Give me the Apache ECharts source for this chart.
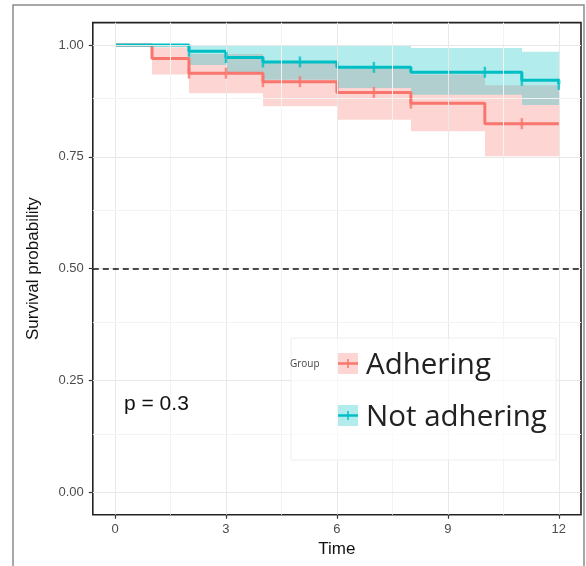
<!DOCTYPE html>
<html>
<head>
<meta charset="utf-8">
<script src="https://cdn.jsdelivr.net/npm/echarts@6/dist/echarts.min.js"></script>
<style>
html,body{margin:0;padding:0;background:#fff;}
#chart{width:586px;height:566px;}
</style>
</head>
<body>
<div id="chart"></div>
<script>
// ---- data ----
const xTicks = [0, 3, 6, 9, 12];
const xMinor = [1.5, 4.5, 7.5, 10.5];
const yTicks = [0, 0.25, 0.5, 0.75, 1];
const yMinor = [0.125, 0.375, 0.625, 0.875];

const groups = ['Adhering', 'Not adhering'];

// Adhering (red)
const redTimes = [0, 1, 2, 4, 6, 8, 10, 12];
const redSurv  = [1.000, 0.970, 0.937, 0.918, 0.894, 0.870, 0.824, 0.824];
const redLower = [1.000, 0.934, 0.892, 0.863, 0.833, 0.807, 0.751];
const redUpper = [1.000, 0.995, 0.980, 0.960, 0.950, 0.934, 0.910];
const redCensor = [2, 3, 4, 5, 7, 8, 11];

// Not adhering (teal)
const tealTimes = [0, 2, 3, 4, 6, 8, 11, 12];
const tealSurv  = [1.000, 0.986, 0.972, 0.962, 0.950, 0.939, 0.921, 0.912];
const tealLower = [1.000, 0.955, 0.935, 0.922, 0.904, 0.889, 0.866];
const tealUpper = [1.000, 1.000, 1.000, 1.000, 1.000, 0.993, 0.985];
const tealCensor = [2, 3, 4, 5, 7, 10, 11, 12];

const medianLine = 0.5;
const pText = 'p = 0.3';

// ---- helpers ----
const RED = '#F8766D', TEAL = '#00BFC4';
function stepVal(times, surv, t) {
  let v = surv[0];
  for (let i = 0; i < times.length; i++) { if (times[i] <= t) v = surv[i]; }
  return v;
}
function bandData(times, lo, hi) {
  const out = [];
  for (let i = 0; i < lo.length; i++) out.push([times[i], times[i + 1], lo[i], hi[i]]);
  return out;
}
function bandRender(color) {
  return function (params, api) {
    const p0 = api.coord([api.value(0), api.value(3)]);
    const p1 = api.coord([api.value(1), api.value(2)]);
    const x0 = Math.round(p0[0]), x1 = Math.round(p1[0]);
    return { type: 'rect', shape: { x: x0, y: p0[1], width: x1 - x0, height: p1[1] - p0[1] },
             style: { fill: color } };
  };
}

const chart = echarts.init(document.getElementById('chart'), null, { renderer: 'canvas' });

const gridLines = [];
xTicks.forEach(v => gridLines.push({ xAxis: v, lineStyle: { color: '#e8e8e8', width: 1, type: 'solid' } }));
xMinor.forEach(v => gridLines.push({ xAxis: v, lineStyle: { color: '#f3f3f3', width: 1, type: 'solid' } }));
yTicks.forEach(v => gridLines.push({ yAxis: v, lineStyle: { color: '#e8e8e8', width: 1, type: 'solid' } }));
yMinor.forEach(v => gridLines.push({ yAxis: v, lineStyle: { color: '#f3f3f3', width: 1, type: 'solid' } }));

const option = {
  animation: false,
  backgroundColor: '#fff',
  grid: { left: 92.8, right: 5, top: 22.6, bottom: 51.3, show: true,
          borderColor: '#222', borderWidth: 1.6, backgroundColor: '#fff' },
  xAxis: {
    type: 'value', min: -0.6, max: 12.6,
    axisLine: { show: false, onZero: false }, splitLine: { show: false },
    axisTick: { show: true, customValues: xTicks, length: 4, lineStyle: { color: '#333', width: 1.2 } },
    axisLabel: { customValues: xTicks, color: '#4d4d4d', fontSize: 13, margin: 8, fontFamily: 'Liberation Sans' },
    name: 'Time', nameLocation: 'middle', nameGap: 25,
    nameTextStyle: { fontSize: 17, color: '#111', fontFamily: 'Liberation Sans' }
  },
  yAxis: {
    type: 'value', min: -0.05, max: 1.05,
    axisLine: { show: false, onZero: false }, splitLine: { show: false },
    axisTick: { show: true, customValues: yTicks, length: 4, lineStyle: { color: '#333', width: 1.2 } },
    axisLabel: { customValues: yTicks, color: '#4d4d4d', fontSize: 13, margin: 9, fontFamily: 'Liberation Sans',
                 formatter: v => v.toFixed(2) },
    name: 'Survival probability', nameLocation: 'middle', nameGap: 51,
    nameTextStyle: { fontSize: 17, color: '#111', fontFamily: 'Liberation Sans' }
  },
  series: [
    { type: 'line', data: [], z: 1, silent: true,
      markLine: { silent: true, symbol: ['none', 'none'], label: { show: false }, data: gridLines } },
    { type: 'custom', name: groups[0] + ' CI', z: 2, silent: true,
      renderItem: bandRender('rgba(248,118,109,0.3)'),
      encode: { x: [0, 1], y: [2, 3] }, data: bandData(redTimes, redLower, redUpper) },
    { type: 'custom', name: groups[1] + ' CI', z: 2, silent: true,
      renderItem: bandRender('rgba(0,191,196,0.3)'),
      encode: { x: [0, 1], y: [2, 3] }, data: bandData(tealTimes, tealLower, tealUpper) },
    { type: 'line', data: [], z: 3, silent: true,
      markLine: { silent: true, symbol: ['none', 'none'], label: { show: false },
        data: [{ yAxis: medianLine, lineStyle: { color: '#111', width: 1.6, type: [6, 4] } }] } },
    { type: 'line', name: groups[0], step: 'end', showSymbol: false, z: 4,
      lineStyle: { color: RED, width: 3 },
      data: redTimes.map((t, i) => [t, redSurv[i]]) },
    { type: 'line', name: groups[1], step: 'end', showSymbol: false, z: 4,
      lineStyle: { color: TEAL, width: 3 },
      data: tealTimes.map((t, i) => [t, tealSurv[i]]) },
    { type: 'scatter', z: 5, symbol: 'rect', symbolSize: [2.5, 11], itemStyle: { color: RED },
      data: redCensor.map(t => [t, stepVal(redTimes, redSurv, t)]) },
    { type: 'scatter', z: 5, symbol: 'rect', symbolSize: [2.5, 11], itemStyle: { color: TEAL },
      data: tealCensor.map(t => [t, stepVal(tealTimes, tealSurv, t)]) }
  ],
  graphic: [
    { type: 'polyline', silent: true, z: 10,
      shape: { points: [[13, 566], [13, 5], [584, 5], [584, 566]] },
      style: { stroke: '#8c8c8c', lineWidth: 1.5, fill: null } },
    { type: 'rect', silent: true, z: 10, shape: { x: 291, y: 338, width: 265, height: 122 },
      style: { fill: 'rgba(255,255,255,0.65)', stroke: '#eeeeee', lineWidth: 1 } },
    { type: 'text', z: 11, x: 290, y: 364,
      style: { text: 'Group', fontSize: 10, fill: '#444', verticalAlign: 'middle', fontFamily: 'Open Sans' } },
    { type: 'rect', z: 11, shape: { x: 338, y: 353, width: 20, height: 21 }, style: { fill: 'rgba(248,118,109,0.3)' } },
    { type: 'line', z: 12, shape: { x1: 338, y1: 363.5, x2: 358, y2: 363.5 }, style: { stroke: RED, lineWidth: 2.5 } },
    { type: 'line', z: 12, shape: { x1: 348, y1: 359, x2: 348, y2: 368 }, style: { stroke: RED, lineWidth: 1.5 } },
    { type: 'text', z: 11, x: 366, y: 366,
      style: { text: groups[0], fontSize: 29.5, fill: '#222', verticalAlign: 'middle', fontFamily: 'Open Sans' } },
    { type: 'rect', z: 11, shape: { x: 338, y: 405, width: 20, height: 21 }, style: { fill: 'rgba(0,191,196,0.3)' } },
    { type: 'line', z: 12, shape: { x1: 338, y1: 415.5, x2: 358, y2: 415.5 }, style: { stroke: TEAL, lineWidth: 2.5 } },
    { type: 'line', z: 12, shape: { x1: 348, y1: 411, x2: 348, y2: 420 }, style: { stroke: TEAL, lineWidth: 1.5 } },
    { type: 'text', z: 11, x: 366, y: 418,
      style: { text: groups[1], fontSize: 29.5, fill: '#222', verticalAlign: 'middle', fontFamily: 'Open Sans' } },
    { type: 'text', z: 11, x: 124, y: 404,
      style: { text: pText, fontSize: 21, fill: '#111', verticalAlign: 'middle', fontFamily: 'Liberation Sans' } }
  ]
};
chart.setOption(option);
</script>
</body>
</html>
